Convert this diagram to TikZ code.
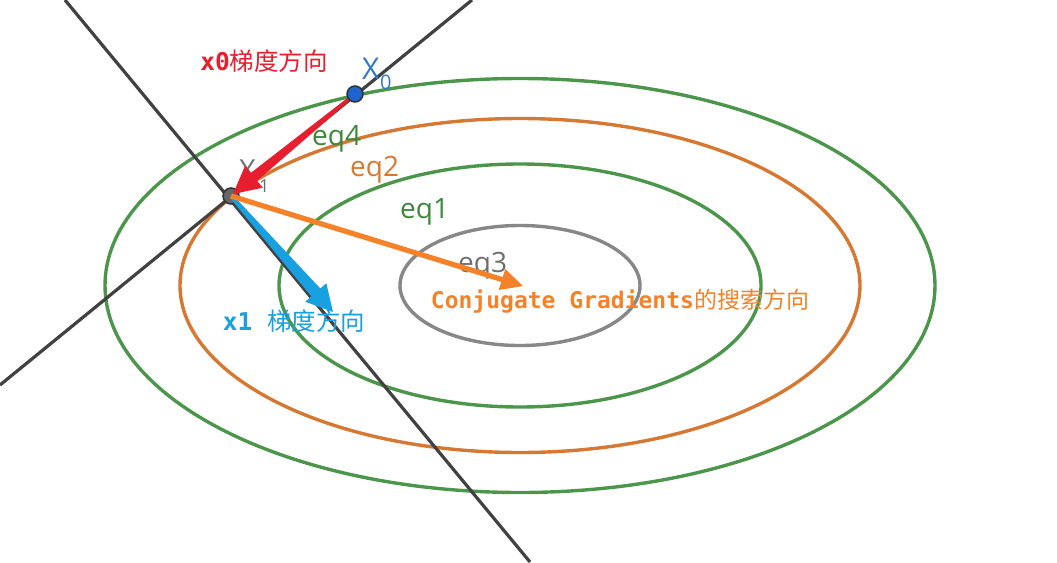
\documentclass[tikz,border=0pt]{standalone}
\usepackage{fontspec}
\setmainfont{Open Sans}
\newfontfamily\cjk{Noto Sans CJK SC}
\newfontfamily\monof{DejaVu Sans Mono}
\usetikzlibrary{calc}
\definecolor{cgreen}{RGB}{76,150,76}
\definecolor{tgreen}{RGB}{60,135,60}
\definecolor{corange}{RGB}{214,120,50}
\definecolor{cgray}{RGB}{135,135,135}
\definecolor{tgray}{RGB}{110,110,110}
\definecolor{cline}{RGB}{65,65,65}
\definecolor{cred}{RGB}{230,30,45}
\definecolor{cblue}{RGB}{25,160,225}
\definecolor{xblue}{RGB}{50,120,205}
\definecolor{dotblue}{RGB}{30,100,205}
\definecolor{carrow}{RGB}{245,130,40}
\newcommand\taperarrow[7]{%
  \coordinate (tb) at ($(#3)!#7!(#2)$);
  \fill[#1] ($(#2)!#4!90:(tb)$) -- ($(tb)!#5!-90:(#2)$) -- ($(tb)!#6!-90:(#2)$)
    -- (#3) -- ($(tb)!#6!90:(#2)$) -- ($(tb)!#5!90:(#2)$) -- ($(#2)!#4!-90:(tb)$) -- cycle;
}
\tikzset{
  ell/.style={line width=3.4pt},
  axisline/.style={cline, line width=3.2pt},
  eqlab/.style={font=\fontsize{28}{30}\selectfont, inner sep=0pt, anchor=base west},
  cjklab/.style={font=\fontsize{24.5}{28}\selectfont, inner sep=0pt},
  dot/.style={circle, draw=black!80, line width=1.5pt, minimum size=16pt, inner sep=0pt}
}
\begin{document}
\begin{tikzpicture}[x=1pt,y=-1pt]
\useasboundingbox (0,0) rectangle (1057,562);
% ellipses
\coordinate (c) at (520,285.5);
\draw[ell, cgreen] (c) ellipse [x radius=415, y radius=207];
\draw[ell, corange] (c) ellipse [x radius=340, y radius=167];
\draw[ell, cgreen] (c) ellipse [x radius=241, y radius=121.5];
\draw[ell, cgray] (c) ellipse [x radius=120, y radius=60];
% lines
\coordinate (l1a) at (0,385);
\coordinate (l1b) at (472,0);
\coordinate (l2a) at (65,0);
\coordinate (l2b) at (530,562);
\draw[axisline] (l1a) -- (l1b);
\draw[axisline] (l2a) -- (l2b);
% labels eq
\node[eqlab, text=tgreen] (eq4) at (312,145) {eq4};
\node[eqlab, text=corange] (eq2) at (350,176) {eq2};
\node[eqlab, text=tgreen] (eq1) at (400,218) {eq1};
\node[eqlab, text=tgray] (eq3) at (458,272) {eq3};
% points
\coordinate (X0) at (355,94);
\coordinate (X1) at (231,196);
\node[text=tgray, font=\fontsize{29}{30}\selectfont, inner sep=0pt, anchor=base west] (x1lab) at (239,180) {X};
\node[text=tgray, font=\fontsize{18}{20}\selectfont, inner sep=0pt, anchor=base west] (x1sub) at (259,192) {1};
\node[dot, fill=black!60] (p1) at (X1) {};
% arrows
\coordinate (redtip) at (233,194);
\taperarrow{cred}{X0}{redtip}{1.5pt}{5pt}{14pt}{27pt}
\coordinate (bluetip) at (333,312);
\taperarrow{cblue}{X1}{bluetip}{2pt}{6pt}{14pt}{26pt}
\coordinate (orangetip) at (523,286);
\taperarrow{carrow}{X1}{orangetip}{2.6pt}{2.6pt}{11pt}{22pt}
\node[dot, fill=dotblue] (p0) at (X0) {};
\node[text=xblue, font=\fontsize{30}{32}\selectfont, inner sep=0pt, anchor=base west] (x0lab) at (362,79) {X};
\node[text=xblue, font=\fontsize{20}{22}\selectfont, inner sep=0pt, anchor=base west] (x0sub) at (380,89) {0};
% text labels
\node[cjklab, text=cred] (t0) at (264,61) {{\monof\bfseries x0}{\cjk 梯度方向}};
\node[cjklab, text=cblue] (t1) at (294,321) {{\monof\bfseries x1 }{\cjk 梯度方向}};
\node[cjklab, text=carrow, font=\fontsize{23}{26}\selectfont] (t2) at (620,301) {{\monof\bfseries Conjugate Gradients}{\cjk 的搜索方向}};
\end{tikzpicture}
\end{document}
